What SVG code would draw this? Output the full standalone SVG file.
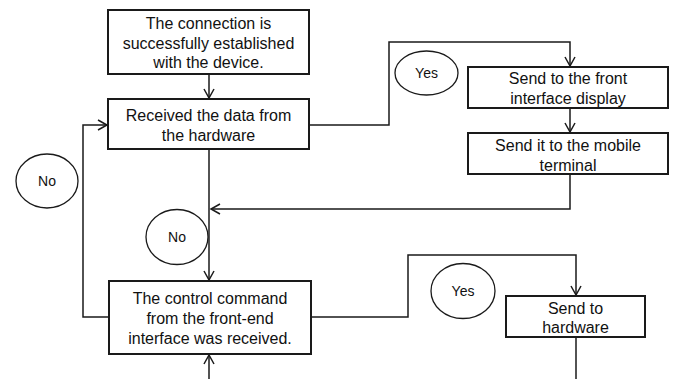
<svg xmlns="http://www.w3.org/2000/svg" width="678" height="379" viewBox="0 0 678 379">
<style>
.box{fill:#fff;stroke:#1a1a1a;stroke-width:2}
.ell{fill:#fff;stroke:#1a1a1a;stroke-width:1.3}
.t{font-family:"Liberation Sans",Arial,sans-serif;font-size:16px;fill:#111;text-anchor:middle}
.s{font-family:"Liberation Sans",Arial,sans-serif;font-size:14px;fill:#111;text-anchor:middle}
.c{fill:none;stroke:#1a1a1a;stroke-width:1.5}
</style>
<defs>
<marker id="arr" markerWidth="12" markerHeight="12" refX="10" refY="6" orient="auto" markerUnits="userSpaceOnUse">
<path d="M1,1 L10,6 L1,11" fill="none" stroke="#1a1a1a" stroke-width="1.5"/>
</marker>
</defs>
<rect width="678" height="379" fill="#fff"/>
<g id="connectors">
<path class="c" d="M209,74 V98" marker-end="url(#arr)"/>
<path class="c" d="M309,125 H389 V42 H570 V66" marker-end="url(#arr)"/>
<path class="c" d="M570,108 V132" marker-end="url(#arr)"/>
<path class="c" d="M570,174 V209 H211" marker-end="url(#arr)"/>
<path class="c" d="M209,149 V280" marker-end="url(#arr)"/>
<path class="c" d="M108,317 H83 V125 H107" marker-end="url(#arr)"/>
<path class="c" d="M311,317 H408 V255 H576 V295" marker-end="url(#arr)"/>
<path class="c" d="M576,337 V379"/>
<path class="c" d="M209,379 V355" marker-end="url(#arr)"/>
</g>
<g id="n1"><rect class="box" x="108" y="10" width="201" height="64"/>
<text class="t" x="208.5" y="29">The connection is</text>
<text class="t" x="208.5" y="49">successfully established</text>
<text class="t" x="208.5" y="68">with the device.</text></g>
<g id="n2"><rect class="box" x="108" y="99" width="201" height="50"/>
<text class="t" x="208.5" y="121">Received the data from</text>
<text class="t" x="208.5" y="141">the hardware</text></g>
<g id="n3"><rect class="box" x="468" y="67" width="200" height="41"/>
<text class="t" x="568" y="84">Send to the front</text>
<text class="t" x="568" y="104">interface display</text></g>
<g id="n4"><rect class="box" x="468" y="133" width="200" height="41"/>
<text class="t" x="568" y="151">Send it to the mobile</text>
<text class="t" x="568" y="171">terminal</text></g>
<g id="n5"><rect class="box" x="109" y="281" width="202" height="73"/>
<text class="t" x="210" y="304">The control command</text>
<text class="t" x="210" y="324">from the front-end</text>
<text class="t" x="210" y="344">interface was received.</text></g>
<g id="n6"><rect class="box" x="506" y="296" width="139" height="41"/>
<text class="t" x="575.5" y="314">Send to</text>
<text class="t" x="575.5" y="333">hardware</text></g>
<g id="yes1"><ellipse class="ell" cx="426.5" cy="73" rx="31.5" ry="22"/>
<text class="s" x="426.5" y="78">Yes</text></g>
<g id="no1"><ellipse class="ell" cx="47" cy="181" rx="31" ry="27"/>
<text class="s" x="47" y="186">No</text></g>
<g id="no2"><ellipse class="ell" cx="177" cy="237" rx="31" ry="27.5"/>
<text class="s" x="177" y="242">No</text></g>
<g id="yes2"><ellipse class="ell" cx="463" cy="291" rx="32" ry="27.5"/>
<text class="s" x="463" y="296">Yes</text></g>
</svg>
